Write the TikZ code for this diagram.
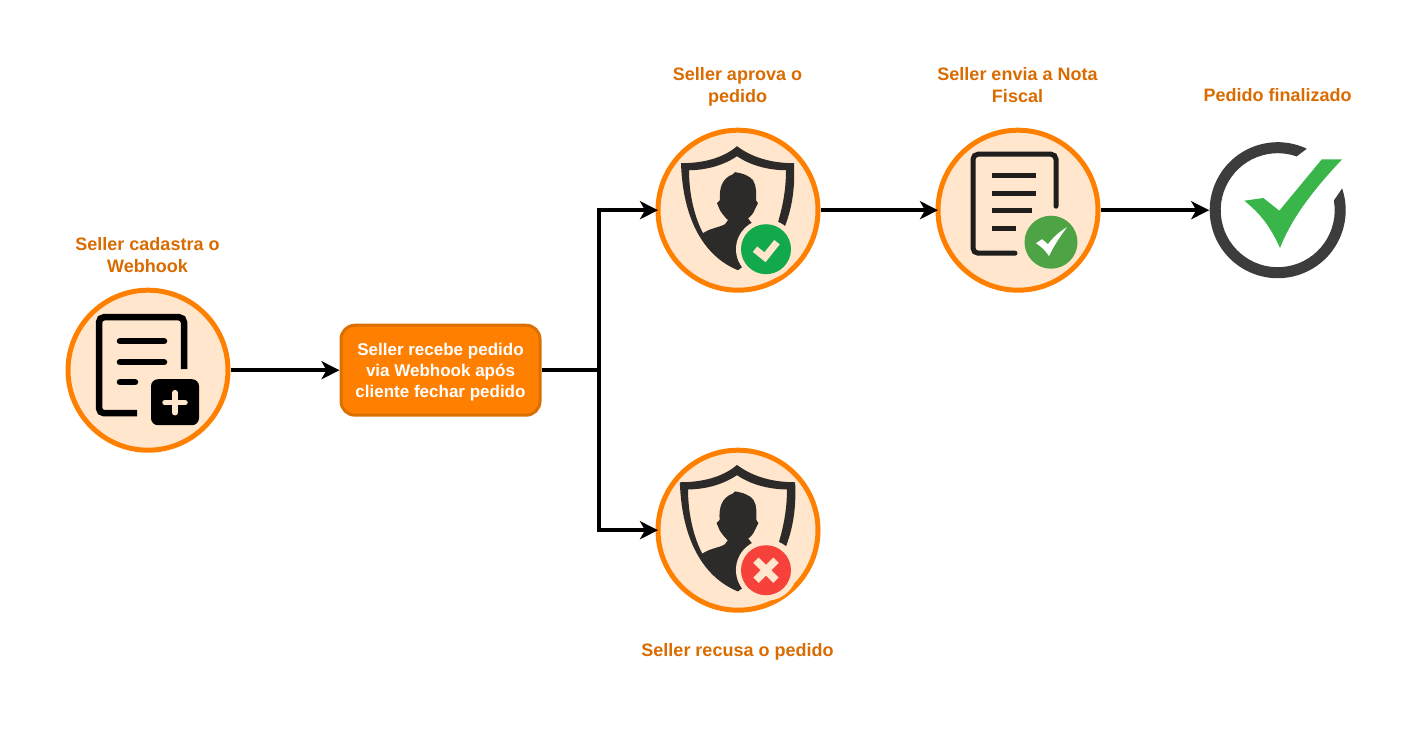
\documentclass[tikz,border=0pt]{standalone}
\usepackage{fontspec}
\setmainfont{Liberation Sans}
\usepackage{xcolor}
\usetikzlibrary{arrows.meta,calc}
\definecolor{laranja}{HTML}{FF8000}
\definecolor{laranjaEsc}{HTML}{D97000}
\definecolor{pele}{HTML}{FFE6CC}
\definecolor{titulo}{HTML}{D96B00}
\definecolor{escudo}{HTML}{2D2B2A}
\definecolor{verdeA}{HTML}{12A94C}
\definecolor{verdeB}{HTML}{4EA345}
\definecolor{verdeC}{HTML}{39B54A}
\definecolor{vermelho}{HTML}{F6423A}
\definecolor{anel}{HTML}{3C3C3C}
\def\fsize#1#2{\fontsize{#1}{#2}\selectfont}

\tikzset{
  etapa/.style={circle,draw=laranja,fill=pele,line width=5pt,minimum size=160pt,inner sep=0pt},
  caixa/.style={draw=laranjaEsc,fill=laranja,line width=3pt,rounded corners=14pt,minimum width=199pt,
    minimum height=90pt,inner sep=0pt,align=center,text=white,font=\fsize{17}{21}\bfseries},
  rotulo/.style={align=center,text=titulo,font=\fsize{18}{22}\bfseries,inner sep=0pt},
  fluxo/.style={line width=4pt,-{Stealth[length=18pt,width=18pt,inset=5pt]}},
  entra/.style={fluxo,shorten >=-2.5pt},
  % silhouette of the shield with the person inside
  shield/.pic={
    \fill[escudo] (-1,-64) .. controls (15,-52) and (35,-47) .. (56,-47)
      .. controls (57,-25) and (55,-5) .. (47,16) -- (40,12)
      .. controls (46,-8) and (48,-25) .. (48,-40)
      .. controls (30,-40) and (12,-45) .. (-1,-54)
      .. controls (-14,-45) and (-32,-40) .. (-49,-40)
      .. controls (-49,-15) and (-43,8) .. (-35,23)
      .. controls (-28,18) and (-18,17) .. (-13,14) -- (-10,10)
      .. controls (-14,6) and (-17,2) .. (-18,0) -- (-21,-7) -- (-18,-10)
      .. controls (-19,-22) and (-16,-32) .. (-5,-36) -- (-3,-38)
      .. controls (5,-37) and (12,-34) .. (15,-30)
      .. controls (19,-24) and (18,-16) .. (18,-10) -- (20,-7) -- (17,-1)
      .. controls (15,4) and (12,7) .. (10,8) -- (13,12) -- (40,30)
      -- (0,60) .. controls (-30,48) and (-55,15) .. (-57,-47)
      .. controls (-35,-47) and (-15,-52) .. (-1,-64) -- cycle;
    \fill[pele] (28,39) circle (30);
  }
}

\begin{document}
\begin{tikzpicture}[x=1pt,y=-1pt]
  \useasboundingbox (0,0) rectangle (1426,736);

  \node[etapa] (cadastra) at (148,370.2) {};
  \node[caixa] (recebe) at (440.5,370.2) {\rule{0pt}{17pt}Seller recebe pedido\\via Webhook após\\cliente fechar pedido};
  \node[etapa] (aprova) at (738,210.2) {};
  \node[etapa] (recusa) at (738,530.2) {};
  \node[etapa] (nota) at (1018,210.2) {};
  \node[circle,minimum size=137pt,inner sep=0pt,outer sep=0pt] (fim) at (1277.7,210.2) {};
  \coordinate (tronco) at (599,370.2);

  \node[rotulo] (tCadastra) at (147.5,255) {Seller cadastra o\\Webhook};
  \node[rotulo] (tAprova) at (737.5,86.5) {Seller aprova o\\pedido};
  \node[rotulo] (tNota) at (1017.5,85) {Seller envia a Nota\\Fiscal};
  \node[rotulo] (tFim) at (1277.5,95) {Pedido finalizado};
  \node[rotulo] (tRecusa) at (737.5,651.5) {Seller recusa o pedido};

  \draw[fluxo] (cadastra) -- (recebe);
  \draw[line width=4pt] (recebe) -- (tronco);
  \draw[entra] (tronco) |- (aprova);
  \draw[entra] (tronco) |- (recusa);
  \draw[entra] (aprova) -- (nota);
  \draw[fluxo] (nota) -- (fim);

  % document with the plus badge
  \begin{scope}[shift={(cadastra.center)}]
    \draw[line width=6.5pt,rounded corners=5pt] (-11,43) -- (-49,43) -- (-49,-53) -- (36,-53) -- (36,-1);
    \foreach \y/\xe in {-29/16,-8/16,12/-13}
      \draw[line width=6.5pt,line cap=round] (-28,\y) -- (\xe,\y);
    \fill[rounded corners=7pt] (3,9) rectangle (51,55);
    \draw[pele,line width=5.5pt,line cap=round] (17,32.5) -- (37,32.5) (27,22.5) -- (27,42.5);
  \end{scope}

  % shield, accepted
  \path (aprova.center) pic {shield};
  \begin{scope}[shift={(aprova.center)}]
    \fill[verdeA] (28,39) circle (25);
    \draw[pele,line width=7pt] (17,39) -- (27,47) -- (39,32);
  \end{scope}

  % shield, refused
  \path (recusa.center) pic[scale=1.02] {shield};
  \begin{scope}[shift={(recusa.center)}]
    \fill[vermelho] (28,40) circle (25);
    \draw[pele,line width=7.5pt] (18,30) -- (38,50) (38,30) -- (18,50);
  \end{scope}

  % document with the tick badge
  \begin{scope}[shift={(nota.center)}]
    \draw[escudo!70!black,line width=5pt,rounded corners=5pt,line cap=round] (-3,43) -- (-45,43) -- (-45,-56) -- (38,-56) -- (38,-4);
    \foreach \y/\xe in {-35/18,-17/18,0/14,18/-2}
      \draw[escudo!70!black,line width=5pt] (-26,\y) -- (\xe,\y);
    \fill[verdeB] (33,32) circle (26.5);
    \fill[white] (18,33) -- (24,29) -- (30,34) .. controls (35,27) and (42,21) .. (49,17)
      .. controls (43,25) and (36,35) .. (31,46) .. controls (28,41) and (24,37) .. (18,33) -- cycle;
  \end{scope}

  % ring and tick of the last step
  \begin{scope}[shift={(fim.center)}]
    \fill[anel] (-64.7:68) arc[start angle=-64.7,end angle=-378.7,radius=68]
      -- (-9.8:57) arc[start angle=-369.8,end angle=-70.6,radius=57] -- cycle;
    \fill[verdeC] (-33.4,-9.5) -- (-14.4,-12.2) -- (1.6,0.5) -- (44,-50.8) -- (64.3,-50.8)
      .. controls (40,-25) and (15,5) .. (2.3,37.8)
      .. controls (-8,15) and (-18,3) .. (-33.4,-9.5) -- cycle;
  \end{scope}
\end{tikzpicture}
\end{document}
